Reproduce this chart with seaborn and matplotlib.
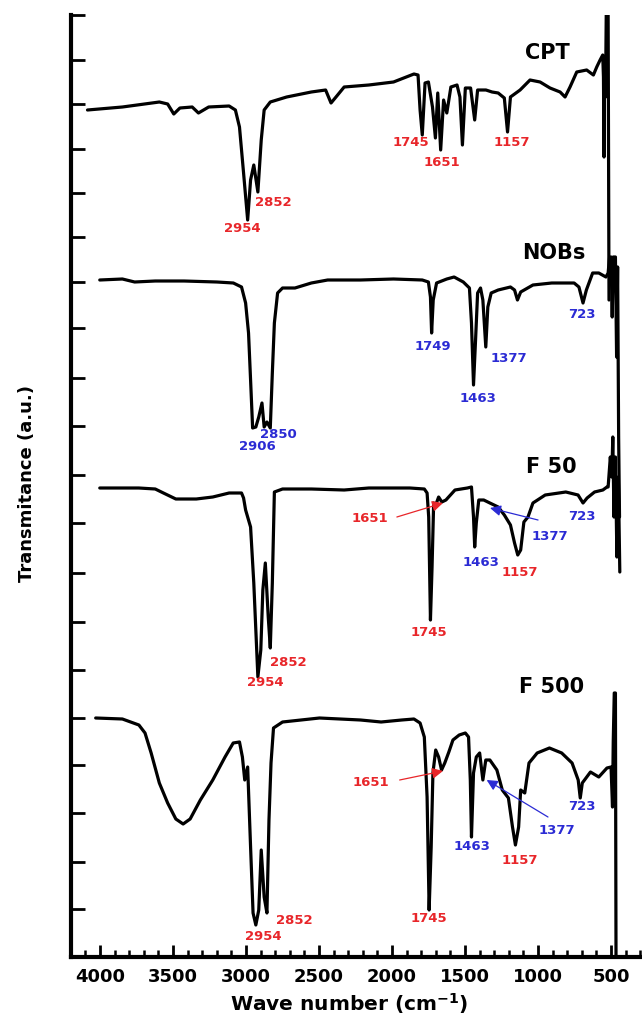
import matplotlib
matplotlib.use("Agg")
import matplotlib.pyplot as plt
from matplotlib.ticker import MultipleLocator
import seaborn as sns

# ---------------- data ----------------
# wavenumber (cm-1) and transmittance (a.u., spectra already offset)
cpt_wn = [4086, 3847, 3594, 3537, 3495, 3453, 3369, 3326, 3256, 3116, 3073, 3045, 3017, 2989,
          2969, 2947, 2919, 2896, 2876, 2834, 2722, 2553, 2455, 2418, 2384, 2328, 2159, 1990,
          1850, 1822, 1808, 1793, 1774, 1751, 1723, 1703, 1687, 1667, 1647, 1625, 1597, 1555,
          1535, 1518, 1498, 1462, 1434, 1414, 1357, 1315, 1273, 1231, 1209, 1189, 1123, 1055,
          986, 918, 849, 815, 781, 735, 667, 621, 598, 575, 557, 552, 548, 544, 538, 533, 520, 514]
cpt_t = [847, 850, 855, 853, 843, 849, 850, 844, 850, 851, 847, 830, 784, 737,
         777, 792, 765, 817, 847, 855, 860, 865, 867, 854, 860, 870, 872, 875,
         883, 882, 847, 822, 874, 875, 850, 819, 864, 807, 857, 844, 870, 872,
         860, 812, 869, 869, 837, 867, 867, 865, 864, 859, 825, 860, 867, 877,
         875, 869, 865, 860, 870, 885, 887, 882, 890, 897, 902, 880, 800, 890, 860, 942, 942, 657]

nob_wn = [4002, 3847, 3763, 3622, 3425, 3200, 3087, 3031, 3003, 2983, 2969, 2955, 2933, 2913,
          2891, 2876, 2857, 2834, 2820, 2806, 2784, 2750, 2665, 2553, 2441, 2216, 1990, 1793,
          1751, 1737, 1729, 1718, 1695, 1625, 1575, 1512, 1470, 1456, 1442, 1428, 1414, 1394,
          1378, 1358, 1344, 1321, 1273, 1189, 1161, 1141, 1119, 1035, 906, 753, 720, 692, 669,
          626, 584, 535, 520, 510, 500, 492, 485, 470, 462, 455, 448, 442]
nob_t = [677, 678, 675, 676, 676, 675, 674, 670, 654, 624, 577, 529, 530, 540,
         554, 530, 535, 529, 584, 634, 664, 669, 669, 674, 677, 677, 678, 677,
         675, 660, 624, 657, 674, 678, 680, 675, 669, 634, 572, 617, 664, 669,
         657, 610, 650, 664, 667, 670, 667, 657, 665, 672, 674, 674, 670, 654, 667,
         684, 684, 680, 684, 700, 700, 640, 700, 700, 600, 690, 520, 440]

f50_wn = [4002, 3735, 3622, 3566, 3481, 3341, 3228, 3116, 3031, 3017, 3003, 2989, 2969, 2947,
          2933, 2919, 2899, 2885, 2868, 2848, 2834, 2820, 2806, 2750, 2553, 2328, 2159, 1878,
          1779, 1760, 1749, 1737, 1726, 1715, 1701, 1681, 1659, 1631, 1569, 1484, 1456, 1442,
          1434, 1423, 1406, 1372, 1330, 1273, 1231, 1189, 1161, 1139, 1119, 1097, 1069, 1035,
          951, 810, 726, 692, 664, 613, 556, 528, 520, 505, 495, 488, 480, 470, 460, 450, 440]
f50_t = [469, 469, 468, 464, 458, 458, 460, 464, 464, 459, 447, 440, 430, 374,
         327, 280, 307, 367, 394, 340, 309, 374, 465, 468, 468, 467, 469, 469,
         468, 464, 440, 337, 390, 454, 452, 460, 455, 457, 467, 469, 470, 440,
         410, 434, 457, 457, 454, 450, 442, 432, 414, 402, 407, 435, 440, 454,
         462, 465, 462, 454, 459, 465, 467, 470, 470, 500, 480, 520, 440, 500, 400, 480, 385]

f500_wn = [4030, 3847, 3734, 3692, 3650, 3594, 3537, 3481, 3431, 3383, 3313, 3228, 3144, 3088,
           3045, 3025, 3009, 2989, 2969, 2952, 2933, 2913, 2896, 2876, 2857, 2843, 2829, 2812,
           2750, 2497, 2216, 2075, 1934, 1850, 1808, 1779, 1760, 1746, 1732, 1720, 1701, 1681,
           1661, 1639, 1611, 1583, 1540, 1498, 1476, 1464, 1456, 1442, 1423, 1400, 1378, 1358,
           1330, 1282, 1245, 1203, 1175, 1155, 1133, 1119, 1091, 1062, 1006, 922, 838, 767, 725,
           711, 697, 641, 584, 528, 500, 490, 485, 478, 470, 466]
f500_t = [239, 238, 232, 224, 204, 174, 154, 138, 133, 138, 157, 177, 200, 214,
          215, 200, 177, 190, 110, 44, 32, 47, 107, 60, 44, 137, 194, 229,
          235, 239, 237, 235, 237, 238, 234, 220, 160, 47, 110, 184, 207, 200,
          187, 194, 205, 217, 222, 224, 220, 177, 120, 184, 200, 204, 177, 197,
          197, 187, 167, 159, 130, 112, 130, 167, 164, 194, 204, 209, 204, 194, 177,
          159, 174, 185, 180, 189, 190, 150, 215, 264, 264, 0]

# spectrum names and title positions (wn, a.u.)
names = ["CPT", "NOBs", "F 50", "F 500"]
name_wn = [936, 895, 907, 905]
name_t = [904, 704, 490, 270]

# peak labels: text, wn, a.u., colour key
lab_text = ["2852", "2954", "1745", "1651", "1157",
            "723", "1749", "1377", "1463", "2850", "2906",
            "1651", "723", "1377", "1463", "1157", "1745", "2852", "2954",
            "1651", "723", "1377", "1463", "1157", "1745", "2852", "2954"]
lab_wn = [2812, 3026, 1872, 1661, 1183,
          702, 1723, 1203, 1414, 2778, 2924,
          2153, 702, 918, 1394, 1124, 1751, 2708, 2868,
          2145, 702, 871, 1450, 1124, 1751, 2671, 2885]
lab_t = [755, 728, 814, 794, 814,
         643, 611, 598, 558, 523, 511,
         439, 440, 420, 395, 384, 325, 294, 274,
         174, 150, 126, 111, 96, 38, 36, 21]
lab_col = ["r", "r", "r", "r", "r",
           "b", "b", "b", "b", "b", "b",
           "r", "b", "b", "b", "r", "r", "r", "r",
           "r", "b", "b", "b", "r", "r", "r", "r"]

# arrows: (tail wn, tail a.u.) -> (tip wn, tip a.u.)
arr_tail_wn = [1967, 1000, 1948, 932]
arr_tail_t = [440, 437, 177, 140]
arr_tip_wn = [1651, 1329, 1651, 1352]
arr_tip_t = [454, 449, 186, 177]
arr_col = ["r", "b", "r", "b"]

xticks = [4000, 3500, 3000, 2500, 2000, 1500, 1000, 500]
# left-axis tick positions (a.u.)
yticks = [942, 897, 853, 808, 764, 720, 675, 629, 579, 531, 482, 434, 384, 335,
          287, 239, 192, 144, 95, 48]

# ---------------- styling ----------------
sns.set_theme(style="ticks")
plt.rcParams["font.family"] = ["DejaVu Sans"]
plt.rcParams["font.weight"] = "bold"
plt.rcParams["mathtext.fontset"] = "dejavusans"
plt.rcParams["mathtext.default"] = "bf"
plt.rcParams["text.color"] = "black"
plt.rcParams["axes.labelcolor"] = "black"
plt.rcParams["xtick.color"] = "black"
plt.rcParams["ytick.color"] = "black"

RED = "#e8262a"
BLUE = "#2b2bd4"
cmap = {"r": RED, "b": BLUE}

W, H = 642, 1019
fig = plt.figure(figsize=(W / 100, H / 100), dpi=100)
fig.patch.set_facecolor("white")
ax = fig.add_axes([71 / W, 62 / H, 1 - 71 / W, 942 / H])
ax.set_facecolor("white")

for xs, ys in [(cpt_wn, cpt_t), (nob_wn, nob_t), (f50_wn, f50_t), (f500_wn, f500_t)]:
    sns.lineplot(x=xs, y=ys, sort=False, estimator=None, color="black", lw=2.3, ax=ax)

ax.set_xlim(4199, 288)
ax.set_ylim(0, 942)

for n, xw, yt in zip(names, name_wn, name_t):
    ax.text(xw, yt, n, fontsize=15, fontweight="bold", color="black", ha="center", va="center")

for t, xw, yt, c in zip(lab_text, lab_wn, lab_t, lab_col):
    ax.text(xw, yt, t, fontsize=9.5, fontweight="bold", color=cmap[c], ha="center", va="center")

for tx, ty, hx, hy, c in zip(arr_tail_wn, arr_tail_t, arr_tip_wn, arr_tip_t, arr_col):
    ax.annotate("", xy=(hx, hy), xytext=(tx, ty),
                arrowprops=dict(arrowstyle="-|>", color=cmap[c], lw=0.9,
                                mutation_scale=16, shrinkA=0, shrinkB=0))

# axes / ticks
for s in ["top", "right"]:
    ax.spines[s].set_visible(False)
ax.spines["left"].set_linewidth(3.0)
ax.spines["bottom"].set_linewidth(3.0)
ax.spines["left"].set_color("black")
ax.spines["bottom"].set_color("black")

ax.set_xticks(xticks)
ax.set_xticklabels([str(v) for v in xticks], fontsize=13, fontweight="bold", color="black")
ax.xaxis.set_minor_locator(MultipleLocator(100))
ax.tick_params(axis="x", which="major", direction="in", length=9, width=2, pad=8, colors="black")
ax.tick_params(axis="x", which="minor", direction="in", length=5, width=1.8, colors="black")
ax.set_yticks(yticks)
ax.tick_params(axis="y", which="major", direction="in", length=10, width=2,
               labelleft=False, colors="black")
ax.set_xlabel("")
ax.set_ylabel("")
ax.grid(False)

fig.text(349 / W, 1 - 1011 / H, r"Wave number (cm$^{-1}$)", fontsize=14.5, fontweight="bold",
         ha="center", va="baseline", color="black")
fig.text(27 / W, 1 - 484 / H, "Transmitance (a.u.)", fontsize=13, fontweight="bold",
         rotation=90, ha="center", va="center", color="black")

fig.savefig("out.png", dpi=100, facecolor="white")
